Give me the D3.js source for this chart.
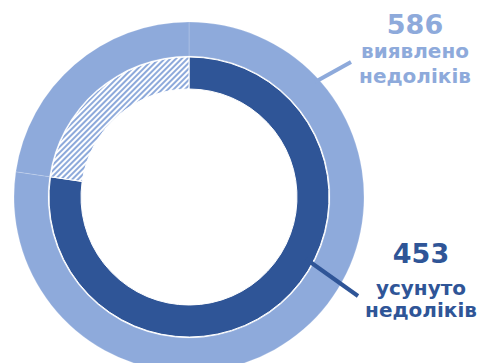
<!DOCTYPE html>
<html><head><meta charset="utf-8">
<script src="https://cdn.jsdelivr.net/npm/d3@7"></script>
<style>body{margin:0;background:#fff}svg{display:block}</style>
</head><body>
<script>
const categories = ["усунуто", "не усунуто"];
const outerValues = [453, 133];
const innerValues = [453, 133];
const labelTotal = "586";
const labelTotalText = ["виявлено", "недоліків"];
const labelFixed = "453";
const labelFixedText = ["усунуто", "недоліків"];

const W = 493, H = 363;
const light = "#8eaadb", dark = "#2f5597";
const cx = 189, cy = 197;

const svg = d3.select("body").append("svg").attr("width", W).attr("height", H);
const defs = svg.append("defs");
const pat = defs.append("pattern").attr("id", "hatch").attr("patternUnits", "userSpaceOnUse")
  .attr("width", 4).attr("height", 4).attr("patternTransform", "rotate(45)");
pat.append("rect").attr("width", 4).attr("height", 4).attr("fill", "#fff");
pat.append("rect").attr("x", 0).attr("width", 2).attr("height", 4).attr("fill", light);

const pie = d3.pie().sort(null).value(d => d);
const g = svg.append("g").attr("transform", `translate(${cx},${cy})`);

const outerArc = d3.arc().innerRadius(141).outerRadius(175);
const innerArc = d3.arc().innerRadius(108).outerRadius(140);

g.selectAll("path.outer").data(pie(outerValues)).join("path")
  .attr("class", "outer").attr("d", outerArc).attr("fill", light)
  .attr("stroke", "rgba(255,255,255,0.25)").attr("stroke-width", 0.7);
g.selectAll("path.inner").data(pie(innerValues)).join("path")
  .attr("class", "inner").attr("d", innerArc)
  .attr("fill", (d, i) => i === 0 ? dark : "url(#hatch)")
  .attr("stroke", "#fff").attr("stroke-width", 1);

// leader lines
svg.append("line").attr("x1", 315).attr("y1", 82).attr("x2", 351).attr("y2", 62)
  .attr("stroke", light).attr("stroke-width", 4);
svg.append("line").attr("x1", 306).attr("y1", 259).attr("x2", 358).attr("y2", 296)
  .attr("stroke", dark).attr("stroke-width", 4);

const font = "'DejaVu Sans', Verdana, sans-serif";
function block(x, lines, color) {
  lines.forEach(l => {
    svg.append("text").attr("x", x).attr("y", l.y).attr("text-anchor", "middle")
      .attr("font-family", font).attr("font-weight", "bold").attr("font-size", l.s)
      .attr("fill", color).text(l.t);
  });
}
block(415, [{t: labelTotal, y: 34, s: 27}, {t: labelTotalText[0], y: 58, s: 20}, {t: labelTotalText[1], y: 83, s: 20}], light);
block(421, [{t: labelFixed, y: 263, s: 27}, {t: labelFixedText[0], y: 295, s: 20}, {t: labelFixedText[1], y: 317, s: 20}], dark);
</script>
</body></html>
